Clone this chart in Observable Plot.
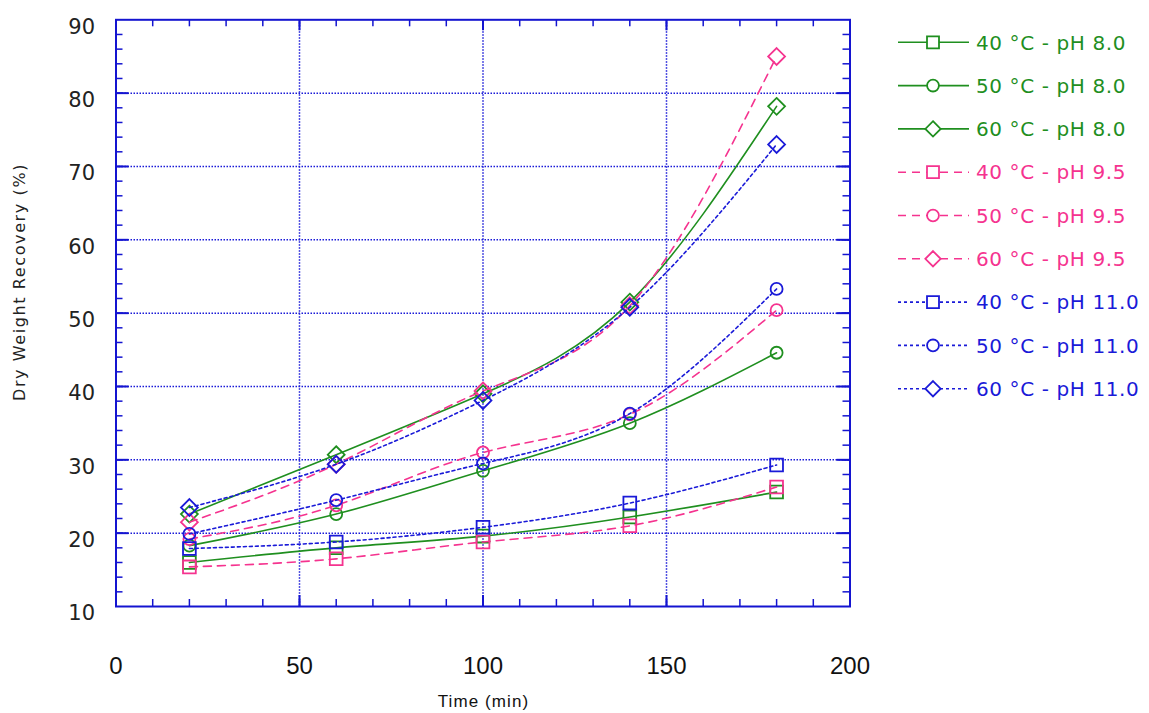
<!DOCTYPE html>
<html><head><meta charset="utf-8">
<script src="https://cdn.jsdelivr.net/npm/d3@7"></script>
<script src="https://cdn.jsdelivr.net/npm/@observablehq/plot@0.6"></script>
<style>
body{margin:0;background:#fff}
#wrap{position:relative;width:1149px;height:713px}
#wrap svg{position:absolute;left:0;top:0}
</style>
</head><body><div id="wrap"></div>
<script>
// ---- data ----
const times = [20, 60, 100, 140, 180];
const seriesNames = [
  "40 °C - pH 8.0", "50 °C - pH 8.0", "60 °C - pH 8.0",
  "40 °C - pH 9.5", "50 °C - pH 9.5", "60 °C - pH 9.5",
  "40 °C - pH 11.0", "50 °C - pH 11.0", "60 °C - pH 11.0"
];
const t40_ph80  = [16.0, 18.0, 19.6, 22.2, 25.6];
const t50_ph80  = [18.3, 22.6, 28.5, 35.0, 44.6];
const t60_ph80  = [22.6, 30.7, 39.0, 51.5, 78.2];
const t40_ph95  = [15.4, 16.5, 18.8, 21.0, 26.3];
const t50_ph95  = [19.2, 23.8, 31.0, 36.2, 50.4];
const t60_ph95  = [21.5, 29.4, 39.4, 51.0, 85.0];
const t40_ph110 = [17.9, 18.8, 20.8, 24.1, 29.3];
const t50_ph110 = [19.9, 24.5, 29.5, 36.3, 53.3];
const t60_ph110 = [23.5, 29.4, 38.1, 50.8, 73.0];
const seriesValues = [t40_ph80, t50_ph80, t60_ph80, t40_ph95, t50_ph95, t60_ph95, t40_ph110, t50_ph110, t60_ph110];
const xTickLabels = [0, 50, 100, 150, 200];
const yTickLabels = [10, 20, 30, 40, 50, 60, 70, 80, 90];

// ---- styles ----
const GREEN = "#1f8f1f", PINK = "#f5338f", BLUE = "#1a1ad8", FRAME = "#1414d0";
const phColor = {"8.0": GREEN, "9.5": PINK, "11.0": BLUE};
const phDash = {"8.0": null, "9.5": "8,6", "11.0": "3,3"};
const tempSymbol = {"40": "square", "50": "circle", "60": "diamond2"};
const tempR = {"40": 7.2, "50": 6.0, "60": 7.6};

const rows = [];
seriesNames.forEach((name, i) => {
  const temp = name.slice(0, 2);
  const ph = name.split("pH ")[1];
  times.forEach((t, j) => rows.push({series: name, temp, ph, time: t, value: seriesValues[i][j]}));
});

const W = 1149, H = 713;
const mL = 115.5, mR = 299.5, mT = 19.3, mB = 107;
const fw = W - mL - mR, fh = H - mT - mB;

const xMinor = d3.range(10, 200, 10);
const xMajor = [50, 100, 150];
const yMinor = d3.range(12, 90, 2);
const yMajor = [20, 30, 40, 50, 60, 70, 80];

const marks = [
  Plot.gridX(xMajor, {stroke: BLUE, strokeOpacity: 1, strokeWidth: 1.5, strokeDasharray: "1.5,1.5"}),
  Plot.gridY(yMajor, {stroke: BLUE, strokeOpacity: 1, strokeWidth: 1.5, strokeDasharray: "1.5,1.5"}),
  // inward ticks, bottom & top
  Plot.ruleX(xMinor, {x: d => d, stroke: FRAME, strokeWidth: 1.5, insetTop: fh - 7}),
  Plot.ruleX(xMinor, {x: d => d, stroke: FRAME, strokeWidth: 1.5, insetBottom: fh - 7}),
  Plot.ruleX(xMajor, {x: d => d, stroke: FRAME, strokeWidth: 2, insetTop: fh - 11}),
  Plot.ruleX(xMajor, {x: d => d, stroke: FRAME, strokeWidth: 2, insetBottom: fh - 11}),
  // inward ticks, left & right
  Plot.ruleY(yMinor, {y: d => d, stroke: FRAME, strokeWidth: 1.5, insetRight: fw - 7}),
  Plot.ruleY(yMinor, {y: d => d, stroke: FRAME, strokeWidth: 1.5, insetLeft: fw - 7}),
  Plot.ruleY(yMajor, {y: d => d, stroke: FRAME, strokeWidth: 2, insetRight: fw - 13}),
  Plot.ruleY(yMajor, {y: d => d, stroke: FRAME, strokeWidth: 2, insetLeft: fw - 13}),
  Plot.axisX(xTickLabels, {tickSize: 0, tickPadding: 50, fontSize: 24, fontFamily: "Liberation Sans", fill: "#111", label: null}),
  Plot.axisY(yTickLabels, {tickSize: 0, tickPadding: 21, dy: 7, fontSize: 21, fontFamily: "DejaVu Sans", fill: "#222", label: null}),
];
seriesNames.forEach(name => {
  const temp = name.slice(0, 2);
  const ph = name.split("pH ")[1];
  const data = rows.filter(d => d.series === name);
  marks.push(Plot.line(data, {x: "time", y: "value", curve: "natural", stroke: phColor[ph], strokeWidth: 1.6, strokeDasharray: phDash[ph]}));
  marks.push(Plot.dot(data, {x: "time", y: "value", symbol: () => tempSymbol[temp], r: tempR[temp], stroke: phColor[ph], strokeWidth: 1.8, fill: "none"}));
});
marks.push(Plot.frame({stroke: FRAME, strokeWidth: 2}));

const chart = Plot.plot({
  width: W, height: H,
  marginLeft: mL, marginRight: mR, marginTop: mT, marginBottom: mB,
  x: {domain: [0, 200], axis: null},
  y: {domain: [10, 90], axis: null},
  symbol: {type: "identity"},
  style: {background: "transparent", overflow: "visible"},
  marks
});
document.getElementById("wrap").appendChild(chart);

// ---- overlay: axis titles and legend ----
const svg = d3.select("#wrap").append("svg").attr("width", W).attr("height", H).style("pointer-events", "none");
svg.append("text").text("Time (min)")
  .attr("x", mL + fw * 0.5 + 1).attr("y", 707).attr("text-anchor", "middle")
  .attr("font-family", "Liberation Sans").attr("font-size", 17).attr("letter-spacing", 1.1).attr("fill", "#111");
svg.append("text").text("Dry Weight Recovery (%)")
  .attr("transform", "translate(25,282) rotate(-90)").attr("text-anchor", "middle")
  .attr("font-family", "DejaVu Sans").attr("font-size", 16).attr("letter-spacing", 1.6).attr("fill", "#222");

const symGen = {
  square: d3.symbol(d3.symbolSquare, 144),
  circle: d3.symbol(d3.symbolCircle, 110),
  diamond2: d3.symbol(d3.symbolDiamond2, 150)
};
seriesNames.forEach((name, i) => {
  const temp = name.slice(0, 2);
  const ph = name.split("pH ")[1];
  const y = 42.3 + 43.3 * i;
  const g = svg.append("g");
  g.append("line").attr("x1", 898).attr("x2", 969).attr("y1", y).attr("y2", y)
    .attr("stroke", phColor[ph]).attr("stroke-width", 1.6).attr("stroke-dasharray", phDash[ph]);
  g.append("path").attr("d", symGen[tempSymbol[temp]]()).attr("transform", `translate(933,${y})`)
    .attr("fill", "#fff").attr("stroke", phColor[ph]).attr("stroke-width", 1.8);
  g.append("text").text(name).attr("x", 976).attr("y", y).attr("dy", "0.36em")
    .attr("font-family", "DejaVu Sans").attr("font-size", 20).attr("letter-spacing", 0.6).attr("fill", phColor[ph]);
});
</script>
</body></html>
